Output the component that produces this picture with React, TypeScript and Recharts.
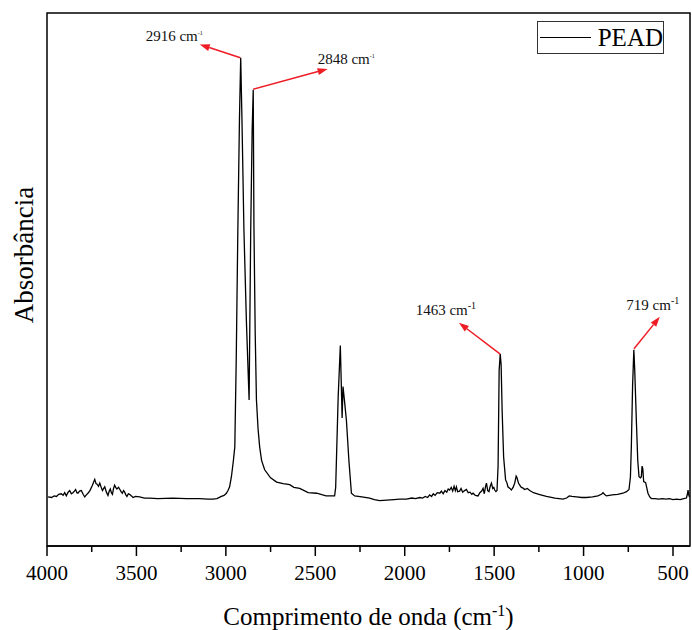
import { LineChart, Line, XAxis, YAxis, ReferenceArea, ReferenceLine } from 'recharts'

// FTIR spectrum of PEAD (wavenumber in cm-1, absorbance in a.u.)
const wavenumber = [
  3994, 3975, 3960, 3947, 3935, 3920, 3910, 3901, 3892, 3882, 3873, 3864, 3855, 3847, 3840, 3833,
  3827, 3818, 3808, 3798, 3789, 3780, 3771, 3760, 3746, 3738, 3733, 3726, 3720, 3712, 3705, 3697,
  3690, 3683, 3677, 3668, 3659, 3652, 3646, 3640, 3634, 3628, 3622, 3616, 3609, 3600, 3594, 3586,
  3579, 3572, 3566, 3559, 3553, 3545, 3538, 3528, 3519, 3505, 3482, 3455, 3426, 3380, 3297, 3220,
  3146, 3100, 3073, 3050, 3025, 3010, 2997, 2988, 2979, 2969, 2958, 2950, 2942, 2933, 2924, 2917,
  2910, 2899, 2885, 2870, 2861, 2853, 2847, 2843, 2836, 2829, 2820, 2811, 2800, 2783, 2750, 2716,
  2680, 2660, 2643, 2620, 2587, 2540, 2492, 2440, 2403, 2392, 2386, 2372, 2360, 2350, 2345, 2336,
  2326, 2312, 2298, 2280, 2240, 2196, 2170, 2140, 2100, 2060, 2028, 1990, 1960, 1940, 1916, 1900,
  1885, 1872, 1860, 1850, 1840, 1830, 1818, 1804, 1795, 1785, 1775, 1765, 1757, 1749, 1740, 1732,
  1724, 1717, 1711, 1704, 1693, 1685, 1676, 1665, 1655, 1645, 1635, 1625, 1618, 1605, 1590, 1580,
  1570, 1562, 1555, 1548, 1543, 1536, 1529, 1522, 1515, 1508, 1502, 1497, 1490, 1484, 1478, 1472,
  1466, 1461, 1455, 1447, 1436, 1428, 1423, 1412, 1404, 1394, 1385, 1377, 1372, 1364, 1357, 1348,
  1340, 1329, 1315, 1301, 1280, 1250, 1208, 1160, 1115, 1095, 1080, 1065, 1040, 1010, 984, 950,
  920, 900, 891, 880, 872, 840, 810, 780, 760, 746, 738, 733, 726, 719, 714, 705,
  697, 690, 682, 677, 673, 669, 664, 653, 646, 640, 630, 621, 600, 580, 560, 540,
  520, 500, 480, 460, 440, 425, 419, 416, 412, 408,
]

const absorbance = [
  0.092, 0.091, 0.094, 0.093, 0.097, 0.098, 0.095, 0.1, 0.094, 0.101, 0.104, 0.098, 0.1, 0.103, 0.106, 0.1,
  0.099, 0.103, 0.104, 0.097, 0.092, 0.096, 0.099, 0.104, 0.114, 0.121, 0.125, 0.117, 0.116, 0.112, 0.118, 0.11,
  0.104, 0.108, 0.111, 0.101, 0.095, 0.103, 0.107, 0.1, 0.097, 0.108, 0.114, 0.11, 0.107, 0.11, 0.107, 0.102,
  0.099, 0.104, 0.101, 0.096, 0.093, 0.098, 0.097, 0.094, 0.091, 0.093, 0.092, 0.09, 0.09, 0.089, 0.09, 0.089,
  0.089, 0.088, 0.088, 0.089, 0.093, 0.095, 0.099, 0.104, 0.111, 0.13, 0.16, 0.186, 0.35, 0.593, 0.8, 0.916,
  0.8, 0.593, 0.42, 0.274, 0.593, 0.78, 0.856, 0.6, 0.4, 0.274, 0.22, 0.186, 0.16, 0.143, 0.128, 0.12,
  0.117, 0.116, 0.115, 0.11, 0.108, 0.1, 0.099, 0.094, 0.094, 0.094, 0.11, 0.28, 0.376, 0.24, 0.299, 0.27,
  0.236, 0.16, 0.099, 0.094, 0.092, 0.09, 0.087, 0.085, 0.086, 0.087, 0.088, 0.088, 0.09, 0.089, 0.091, 0.09,
  0.093, 0.091, 0.096, 0.093, 0.098, 0.095, 0.1, 0.099, 0.103, 0.098, 0.104, 0.101, 0.107, 0.105, 0.11, 0.103,
  0.112, 0.104, 0.111, 0.102, 0.103, 0.108, 0.101, 0.104, 0.106, 0.1, 0.101, 0.097, 0.099, 0.095, 0.094, 0.1,
  0.103, 0.108, 0.098, 0.112, 0.118, 0.104, 0.102, 0.112, 0.118, 0.108, 0.11, 0.105, 0.102, 0.104, 0.15, 0.33,
  0.36, 0.34, 0.25, 0.167, 0.124, 0.118, 0.111, 0.108, 0.105, 0.11, 0.118, 0.131, 0.128, 0.118, 0.114, 0.11,
  0.109, 0.106, 0.108, 0.104, 0.1, 0.097, 0.093, 0.09, 0.088, 0.09, 0.094, 0.093, 0.092, 0.091, 0.091, 0.092,
  0.094, 0.097, 0.1, 0.096, 0.094, 0.096, 0.097, 0.099, 0.102, 0.106, 0.13, 0.186, 0.3, 0.368, 0.33, 0.236,
  0.16, 0.13, 0.128, 0.13, 0.15, 0.145, 0.121, 0.119, 0.108, 0.099, 0.092, 0.089, 0.089, 0.088, 0.089, 0.088,
  0.089, 0.087, 0.088, 0.087, 0.089, 0.09, 0.098, 0.105, 0.096, 0.092,
]

const xTicks = [4000, 3750, 3500, 3250, 3000, 2750, 2500, 2250, 2000, 1750, 1500, 1250, 1000, 750, 500]

// peak annotations: label, arrow start (on the peak), arrow tip
const peakLabels = ['2916', '2848', '1463', '719']
const peakFrom = [[2919, 0.916], [2847, 0.857], [1466, 0.36], [718, 0.37]]
const peakTo = [[3146, 0.941], [2431, 0.895], [1697, 0.419], [574, 0.43]]

const data = wavenumber.map((w, i) => ({ w, a: absorbance[i] }))

const serif = "'Liberation Serif', 'Times New Roman', serif"
const RED = '#ee1c25'

// text placement relative to the arrow tip
const labelStyle = [
  { dx: 3, dy: -3, anchor: 'end', tiny: true },
  { dx: -10, dy: -5, anchor: 'start', tiny: true },
  { dx: -13, dy: -8, anchor: 'middle', tiny: false },
  { dx: -7, dy: -7, anchor: 'middle', tiny: false },
]

function makeArrow(i: number) {
  return (p: any) => {
    const { x1, y1, x2, y2 } = p
    const ang = Math.atan2(y2 - y1, x2 - x1)
    const len = 10
    const half = 3.5
    const bx = x2 - len * Math.cos(ang)
    const by = y2 - len * Math.sin(ang)
    const px = -Math.sin(ang) * half
    const py = Math.cos(ang) * half
    const st = labelStyle[i]
    return (
      <g>
        <line x1={x1} y1={y1} x2={bx} y2={by} stroke={RED} strokeWidth={1.5} />
        <polygon points={`${x2},${y2} ${bx + px},${by + py} ${bx - px},${by - py}`} fill={RED} />
        <text
          x={x2 + st.dx}
          y={y2 + st.dy}
          textAnchor={st.anchor}
          fontFamily={serif}
          fontSize={15}
          fill="#111"
        >
          {peakLabels[i]} cm
          <tspan fontSize={st.tiny ? 6 : 10} dy={st.tiny ? -6 : -6}>
            -1
          </tspan>
        </text>
      </g>
    )
  }
}

function XTick(props: any) {
  const { x, y, payload } = props
  const major = payload.value % 500 === 0
  return (
    <g>
      <line x1={x} y1={y} x2={x} y2={y + (major ? 10 : 6)} stroke="#000" strokeWidth={1.5} />
      {major && (
        <text x={x} y={y + 34} textAnchor="middle" fontFamily={serif} fontSize={21} fill="#000">
          {payload.value}
        </text>
      )}
    </g>
  )
}

export default function App() {
  return (
    <div style={{ position: 'absolute', left: 0, top: 0, width: 692, height: 630, background: '#fff' }}>
      <LineChart width={692} height={630} data={data} margin={{ top: 13, right: 2, bottom: 24, left: 47 }}>
        <XAxis
          dataKey="w"
          type="number"
          domain={[405, 4000]}
          reversed
          allowDataOverflow
          ticks={xTicks}
          interval={0}
          tick={<XTick />}
          tickLine={false}
          tickSize={0}
          tickMargin={0}
          height={60}
          axisLine={{ stroke: '#000', strokeWidth: 1.5 }}
        />
        <YAxis
          type="number"
          domain={[0, 1]}
          width={0}
          tick={false}
          tickLine={false}
          axisLine={{ stroke: '#000', strokeWidth: 1.5 }}
        />
        <ReferenceArea x1={4000} x2={405} y1={0} y2={1} fill="none" stroke="#000" strokeWidth={1.5} />
        <Line
          type="linear"
          dataKey="a"
          stroke="#000"
          strokeWidth={1.3}
          dot={false}
          isAnimationActive={false}
        />
        {peakLabels.map((lab, i) => (
          <ReferenceLine
            key={lab}
            segment={[
              { x: peakFrom[i][0], y: peakFrom[i][1] },
              { x: peakTo[i][0], y: peakTo[i][1] },
            ]}
            shape={makeArrow(i)}
          />
        ))}
      </LineChart>

      {/* legend */}
      <div
        style={{
          position: 'absolute',
          left: 537,
          top: 21,
          width: 125,
          height: 31,
          border: '1.5px solid #333',
          background: '#fff',
          display: 'flex',
          alignItems: 'center',
          fontFamily: serif,
          fontSize: 25,
        }}
      >
        <div style={{ width: 53, height: 0, borderTop: '1.5px solid #000', marginLeft: 2, marginRight: 7 }} />
        <span>PEAD</span>
      </div>

      {/* axis titles */}
      <div
        style={{
          position: 'absolute',
          left: 0,
          width: 737,
          top: 596,
          textAlign: 'center',
          fontFamily: serif,
          fontSize: 25,
          lineHeight: '30px',
        }}
      >
        Comprimento de onda (cm<sup style={{ fontSize: 16 }}>-1</sup>)
      </div>
      <div
        style={{
          position: 'absolute',
          left: 24,
          top: 255,
          transform: 'translate(-50%, -50%) rotate(-90deg)',
          whiteSpace: 'nowrap',
          fontFamily: serif,
          fontSize: 27,
        }}
      >
        Absorbância
      </div>
    </div>
  )
}
